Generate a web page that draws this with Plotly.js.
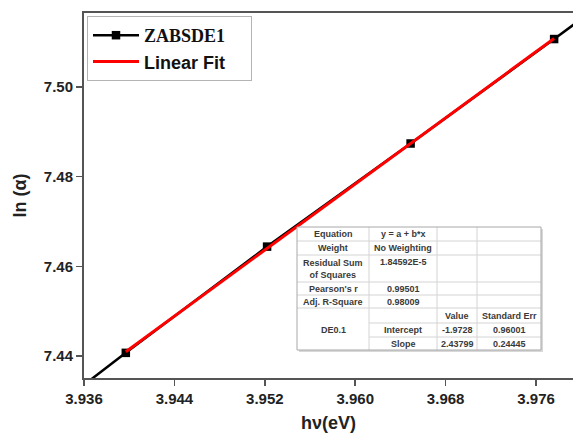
<!DOCTYPE html>
<html>
<head>
<meta charset="utf-8">
<script src="https://cdn.plot.ly/plotly-3.0.1.min.js"></script>
<style>
  html, body { margin: 0; padding: 0; background: #fff; }
  #chart { width: 573px; height: 436px; }
</style>
</head>
<body>
<div id="chart"></div>
<script>
// Photon energy hν (eV) and ln(α) for sample ZABSDE1
const hv      = [3.9272, 3.9397, 3.9522, 3.9649, 3.9776, 3.9904];
const lnAlpha = [7.4166, 7.4407, 7.4644, 7.4874, 7.5107, 7.5345];

// Points used by the linear fit (the ones drawn inside the axes)
const fitFirst = 1;
const fitLast  = 4;

// Tick values
const xTicks = [3.936, 3.944, 3.952, 3.960, 3.968, 3.976];
const yTicks = [7.44, 7.46, 7.48, 7.50];

// Fit report table (Origin style)
const tableRows = [
  ['Equation',                  'y = a + b*x',  '',        ''],
  ['Weight',                    'No Weighting', '',        ''],
  ['Residual Sum<br>of Squares','1.84592E-5',   '',        ''],
  ["Pearson's r",               '0.99501',      '',        ''],
  ['Adj. R-Square',             '0.98009',      '',        ''],
  ['',                          '',             'Value',   'Standard Err'],
  ['DE0.1',                     'Intercept',    '-1.9728', '0.96001'],
  ['',                          'Slope',        '2.43799', '0.24445']
];
// rows 5..7 of the first column form one merged cell
const mergedFrom = 5, mergedTo = 7;

// ---- least-squares line through the fitted points ----
const fx = hv.slice(fitFirst, fitLast + 1);
const fy = lnAlpha.slice(fitFirst, fitLast + 1);
const n = fx.length;
const mx = fx.reduce((a, b) => a + b, 0) / n;
const my = fy.reduce((a, b) => a + b, 0) / n;
let sxy = 0, sxx = 0;
for (let i = 0; i < n; i++) { sxy += (fx[i] - mx) * (fy[i] - my); sxx += (fx[i] - mx) ** 2; }
const slope = sxy / sxx;
const icpt = my - slope * mx;
const fitX = [fx[0], fx[n - 1]];
const fitY = fitX.map(x => icpt + slope * x);

// ---- geometry ----
const W = 573, H = 436;
const M = { l: 84, r: 0, t: 13, b: 58 };
const PW = W - M.l - M.r, PH = H - M.t - M.b;
const xRange = [3.936, 3.97927];
const yRange = [7.43509, 7.51651];
const px = x => (x - M.l) / PW;          // page px -> paper x
const py = y => (H - M.b - y) / PH;      // page px -> paper y

const SANS = 'Liberation Sans, Arial, sans-serif';

const traces = [
  {
    x: hv, y: lnAlpha,
    mode: 'lines+markers',
    name: '<span style="font-family:Liberation Serif, Times New Roman, serif">ZABSDE1</span>\u00a0\u00a0\u00a0\u00a0',
    line: { color: '#000000', width: 2.5 },
    marker: { symbol: 'square', size: 8.5, color: '#000000' },
    cliponaxis: true
  },
  {
    x: fitX, y: fitY,
    mode: 'lines',
    name: 'Linear Fit',
    line: { color: '#ff0000', width: 3 }
  }
];

// ---- table drawn with shapes + annotations ----
const colEdges = [297, 369, 437, 477, 541];
const rowEdges = [227, 241, 255, 282, 295, 308, 323, 337, 350];
const shapes = [];
const annotations = [];

// white body with soft shadow
shapes.push({ type: 'rect', xref: 'paper', yref: 'paper',
  x0: px(colEdges[0] + 2), x1: px(colEdges[4] + 2), y0: py(rowEdges[8] + 2), y1: py(rowEdges[0] + 2),
  fillcolor: '#d8d8d8', line: { width: 0 }, layer: 'above' });
shapes.push({ type: 'rect', xref: 'paper', yref: 'paper',
  x0: px(colEdges[0]), x1: px(colEdges[4]), y0: py(rowEdges[8]), y1: py(rowEdges[0]),
  fillcolor: '#ffffff', line: { width: 0 }, layer: 'above' });

// horizontal grid lines
for (let r = 1; r < rowEdges.length - 1; r++) {
  const skipFirst = (r > mergedFrom && r <= mergedTo);
  const xs = skipFirst ? colEdges[1] : colEdges[0];
  shapes.push({ type: 'line', xref: 'paper', yref: 'paper',
    x0: px(xs), x1: px(colEdges[4]), y0: py(rowEdges[r]), y1: py(rowEdges[r]),
    line: { color: '#d4d4d4', width: 1 }, layer: 'above' });
}
// vertical grid lines
for (let c = 1; c < colEdges.length - 1; c++) {
  shapes.push({ type: 'line', xref: 'paper', yref: 'paper',
    x0: px(colEdges[c]), x1: px(colEdges[c]), y0: py(rowEdges[8]), y1: py(rowEdges[0]),
    line: { color: '#d4d4d4', width: 1 }, layer: 'above' });
}
// outer border
shapes.push({ type: 'rect', xref: 'paper', yref: 'paper',
  x0: px(colEdges[0]), x1: px(colEdges[4]), y0: py(rowEdges[8]), y1: py(rowEdges[0]),
  line: { color: '#a8a8a8', width: 1 }, layer: 'above' });

// cell texts
tableRows.forEach((row, r) => {
  const twoLine = row[0].indexOf('<br>') >= 0;
  row.forEach((txt, c) => {
    if (!txt) return;
    const cx = (colEdges[c] + colEdges[c + 1]) / 2;
    let cy = (rowEdges[r] + rowEdges[r + 1]) / 2;
    if (twoLine && c > 0) cy = rowEdges[r] + 7;
    annotations.push({
      xref: 'paper', yref: 'paper', x: px(cx), y: py(cy),
      xanchor: 'center', yanchor: 'middle', showarrow: false,
      text: txt, align: 'center',
      font: { family: SANS, size: 9, color: '#3a3a3a', weight: 'bold' }
    });
  });
});

const layout = {
  width: W, height: H,
  margin: M,
  paper_bgcolor: '#ffffff',
  plot_bgcolor: '#ffffff',
  showlegend: true,
  legend: {
    x: px(87), y: py(16), xanchor: 'left', yanchor: 'top',
    bgcolor: '#ffffff', bordercolor: '#b4b4b4', borderwidth: 1,
    font: { family: SANS, size: 18, color: '#111111', weight: 'bold' },
    itemwidth: 46,
    tracegroupgap: 0
  },
  xaxis: {
    range: xRange,
    tickvals: xTicks,
    ticktext: xTicks.map(v => v.toFixed(3)),
    showgrid: false, zeroline: false,
    showline: true, linecolor: '#555555', linewidth: 2, mirror: true,
    ticks: 'outside', ticklen: 6, tickwidth: 1.5, tickcolor: '#555555',
    tickfont: { family: SANS, size: 15, color: '#222222', weight: 'bold' },
    title: { text: 'hν(eV)', standoff: 10,
      font: { family: SANS, size: 18, color: '#222222', weight: 'bold' } }
  },
  yaxis: {
    range: yRange,
    tickvals: yTicks,
    ticktext: yTicks.map(v => v.toFixed(2)),
    showgrid: false, zeroline: false,
    showline: true, linecolor: '#555555', linewidth: 2, mirror: false,
    ticks: 'outside', ticklen: 6, tickwidth: 1.5, tickcolor: '#555555',
    tickfont: { family: SANS, size: 15, color: '#222222', weight: 'bold' },
    title: { text: 'ln (α)', standoff: 12,
      font: { family: SANS, size: 18, color: '#222222', weight: 'bold' } }
  },
  shapes: shapes,
  annotations: annotations
};

Plotly.newPlot('chart', traces, layout, { displayModeBar: false, staticPlot: true });
</script>
</body>
</html>
